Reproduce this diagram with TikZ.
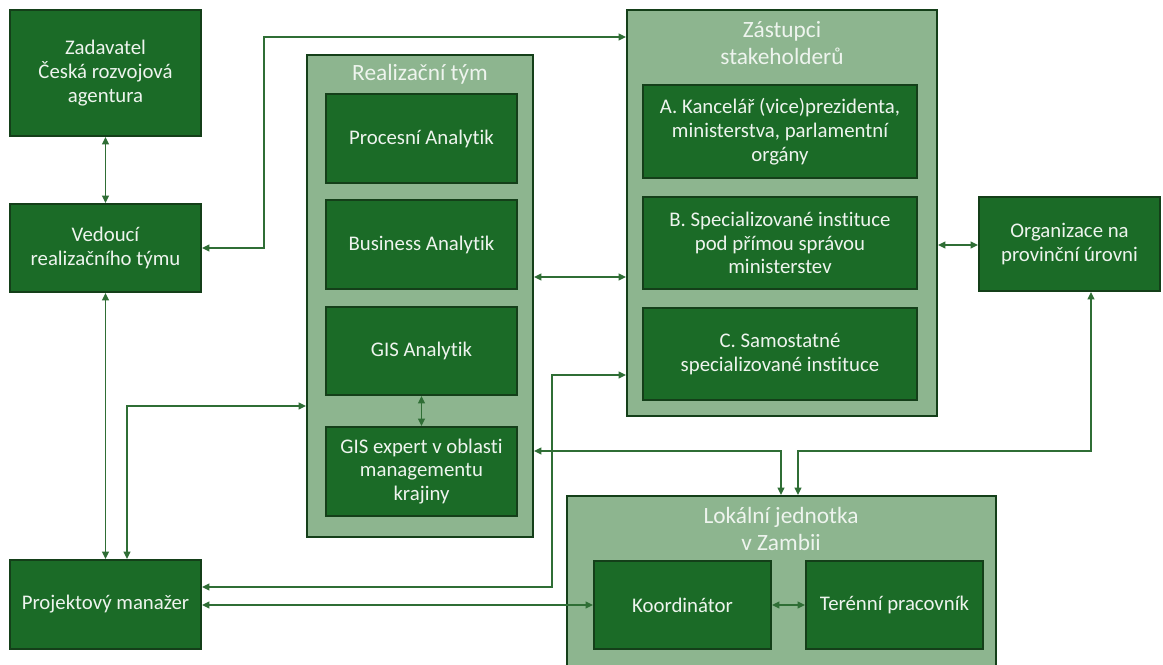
\documentclass[tikz,border=0pt]{standalone}
\usepackage{fontspec}
\setmainfont{Carlito}[Ligatures=CommonOff]
\usetikzlibrary{arrows.meta}
\definecolor{dk}{HTML}{1B6B27}
\definecolor{lt}{HTML}{8DB58F}
\definecolor{bd}{HTML}{143F19}
\definecolor{ln}{HTML}{2F6E35}
\definecolor{tx}{HTML}{EEF4EE}
\begin{document}
\begin{tikzpicture}[x=0.75pt,y=-0.75pt,
 box/.style={draw=bd,line width=1.4pt,fill=dk,text=tx,align=center,font=\fontsize{15.6}{17.8}\selectfont,inner sep=0pt},
 grp/.style={draw=bd,line width=1.4pt,fill=lt,inner sep=0pt},
 ttl/.style={text=tx,align=center,font=\fontsize{17.5}{20.5}\selectfont,inner sep=0pt},
 con/.style={draw=ln,line width=1.2pt,{Triangle[length=5.5pt,width=5pt]}-{Triangle[length=5.5pt,width=5pt]}},
 ]
\fill[white] (0,0) rectangle (1163,664);
\useasboundingbox (0,0) rectangle (1163,664);
\newcommand\bx[7][box]{\node[#1,minimum width={(#5-#3)*0.75pt},minimum height={(#6-#4)*0.75pt}] (#2) at ({(#3+#5)/2},{(#4+#6)/2}) {#7};}
% groups
\bx[grp]{rt}{307}{55}{533}{537}{}
\bx[grp]{zs}{627}{10}{937}{416}{}
\bx[grp]{lj}{567}{496}{996}{666}{}
\node[ttl] (rtt) at (420,74) {Realizační tým};
\node[ttl] (zst) at (782,43) {Zástupci\\stakeholderů};
\node[ttl] (ljt) at (781,529) {Lokální jednotka\\v Zambii};
% boxes
\bx{zad}{10}{10}{201}{136}{Zadavatel\\Česká rozvojová\\agentura}
\bx{ved}{10}{204}{201}{292}{Vedoucí\\realizačního týmu}
\bx{pm}{10}{560}{201}{649}{Projektový manažer}
\bx{proc}{326}{94}{517}{183}{Procesní Analytik}
\bx{bus}{326}{200}{517}{289}{Business Analytik}
\bx{gisa}{326}{307}{517}{395}{GIS Analytik}
\bx{gise}{326}{427}{517}{516}{GIS expert v oblasti\\managementu\\krajiny}
\bx{sa}{643}{85}{917}{178}{A. Kancelář (vice)prezidenta,\\ministerstva, parlamentní\\orgány}
\bx{sb}{643}{197}{917}{289}{B. Specializované instituce\\pod přímou správou\\ministerstev}
\bx{sc}{643}{308}{917}{400}{C. Samostatné\\specializované instituce}
\bx{org}{979}{197}{1160}{291}{Organizace na\\provinční úrovni}
\bx{koo}{594}{561}{771}{649}{Koordinátor}
\bx{ter}{806}{561}{983}{649}{Terénní pracovník}
% connectors
\coordinate (c1) at (264,37);
\draw[con] (ved.east) -| (c1) -- (c1 -| zs.west);
\draw[con] (zad.south) -- (ved.north);
\draw[con] (ved.south) -- (pm.north);
\coordinate (c2) at (127,406);
\draw[con] (pm.north -| c2) -- (c2) -- (c2 -| rt.west);
\coordinate (c3) at (580,277);
\draw[con] (c3 -| rt.east) -- (c3 -| zs.west);
\coordinate (c4) at (958,245);
\draw[con] (c4 -| zs.east) -- (c4 -| org.west);
\coordinate (c5) at (552,587);
\coordinate (c6) at (552,375);
\draw[con] (c5 -| pm.east) -- (c5) -- (c6) -- (c6 -| zs.west);
\coordinate (c7) at (400,605);
\draw[con] (c7 -| pm.east) -- (c7 -| koo.west);
\coordinate (c8) at (781,451);
\draw[con] (c8 -| rt.east) -- (c8) -- (c8 |- lj.north);
\coordinate (c9) at (798,451);
\coordinate (c10) at (1091,451);
\draw[con] (c9 |- lj.north) -- (c9) -- (c10) -- (c10 |- org.south);
\draw[con] (gisa.south) -- (gise.north);
\draw[con] (koo.east) -- (ter.west);
\end{tikzpicture}
\end{document}
